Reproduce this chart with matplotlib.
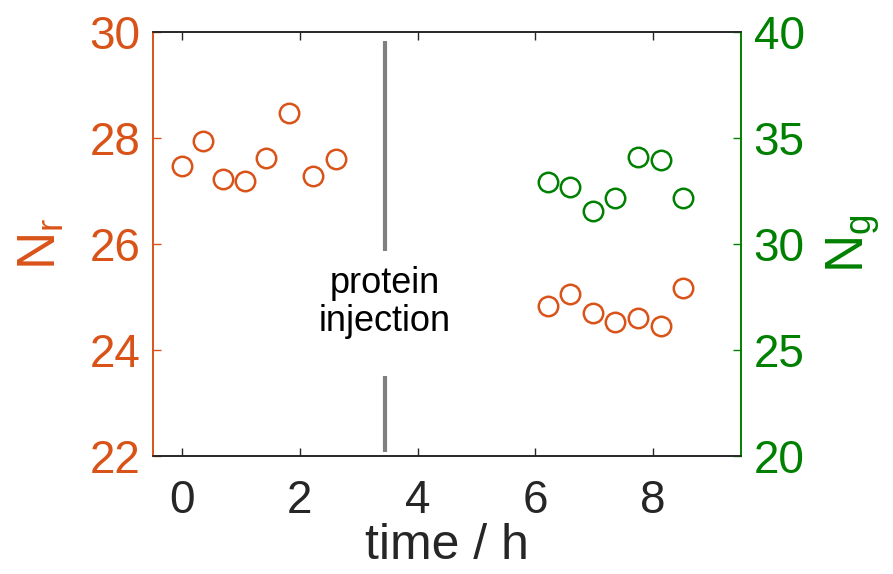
import matplotlib
matplotlib.use("Agg")
import matplotlib.pyplot as plt

# time points (h) and counts
t_before = [0.0, 0.35, 0.69, 1.06, 1.43, 1.82, 2.22, 2.61]
nr_before = [27.47, 27.94, 27.23, 27.19, 27.62, 28.48, 27.29, 27.60]

t_after = [6.22, 6.59, 6.98, 7.36, 7.75, 8.14, 8.51]
nr_after = [24.82, 25.06, 24.69, 24.52, 24.60, 24.45, 25.16]
ng_after = [32.94, 32.68, 31.54, 32.15, 34.10, 33.96, 32.15]

t_injection = 3.45

orange = "#D95319"
green = "#008000"
dark = "#262626"

plt.rcParams['font.family'] = ['Liberation Sans', 'DejaVu Sans']
plt.rcParams['mathtext.fontset'] = 'custom'
plt.rcParams['mathtext.rm'] = 'Liberation Sans'
plt.rcParams['mathtext.it'] = 'Liberation Sans:italic'

fig = plt.figure(figsize=(8.93, 5.74), dpi=100)
ax = fig.add_axes([0.171, 0.206, 0.659, 0.738])
ax2 = ax.twinx()

# left axis: N_r
ax.plot(t_before, nr_before, 'o', mfc='none', mec=orange, ms=14, mew=1.8)
ax.plot(t_after, nr_after, 'o', mfc='none', mec=orange, ms=14, mew=1.8)
# right axis: N_g
ax2.plot(t_after, ng_after, 'o', mfc='none', mec=green, ms=14, mew=1.8)

# injection marker, broken around the label
ax.plot([t_injection, t_injection], [25.87, 29.83], color='#808080', lw=3, solid_capstyle='butt')
ax.plot([t_injection, t_injection], [22.07, 23.50], color='#808080', lw=3, solid_capstyle='butt')
ax.text(t_injection, 24.90, "protein\ninjection", ha='center', va='center',
        fontsize=26, color='black', linespacing=1.1)

ax.set_xlim(-0.5, 9.5)
ax.set_ylim(22, 30)
ax2.set_ylim(20, 40)
ax.set_xticks([0, 2, 4, 6, 8])
ax.set_yticks([22, 24, 26, 28, 30])
ax2.set_yticks([20, 25, 30, 35, 40])

ax.tick_params(axis='x', direction='in', top=True, length=6, width=1,
               colors=dark, labelsize=33, pad=17)
ax.tick_params(axis='y', direction='in', length=6, width=1,
               colors=orange, labelsize=33, pad=9)
ax2.tick_params(axis='y', direction='in', length=6, width=1,
                colors=green, labelsize=33, pad=9)

for a in (ax, ax2):
    a.spines['top'].set_color(dark)
    a.spines['bottom'].set_color(dark)
    a.spines['left'].set_color(orange)
    a.spines['right'].set_color(green)
    for s in a.spines.values():
        s.set_linewidth(1.2)

ax.set_xlabel("time / h", fontsize=36, color=dark, labelpad=0)
ax.set_ylabel(r"$\mathregular{N_r}$", fontsize=38, color=orange, labelpad=16)
ax2.set_ylabel(r"$\mathregular{N_g}$", fontsize=38, color=green, labelpad=14)

fig.savefig("out.png", dpi=100)
